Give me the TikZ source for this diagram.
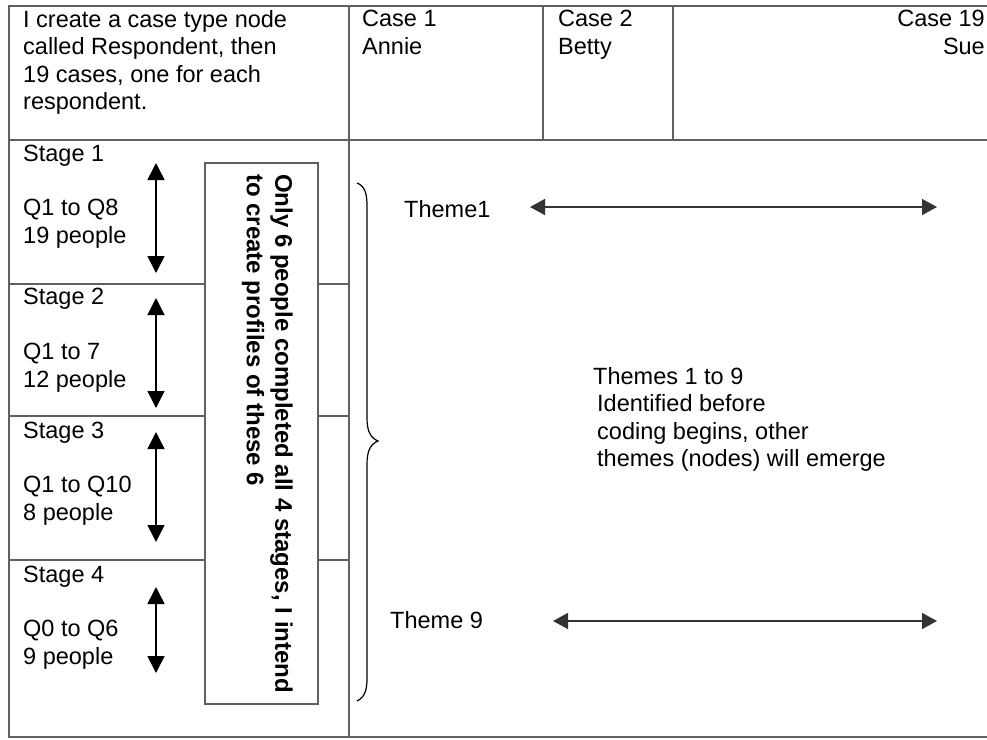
\documentclass[tikz,border=0pt]{standalone}
\usepackage{fontspec}
\setmainfont{Liberation Sans}
\usetikzlibrary{arrows.meta}
\begin{document}
\begin{tikzpicture}[x=1pt,y=-1pt,
  grid/.style={draw=black!62, line width=1.3pt},
  txt/.style={inner sep=0pt, anchor=north west, align=left, font=\fontsize{23.5}{27.5}\selectfont},
  rtxt/.style={inner sep=0pt, anchor=north east, align=right, font=\fontsize{23.5}{27.5}\selectfont},
  vspan/.style={{Triangle[length=17pt,width=17pt]}-{Triangle[length=17pt,width=17pt]}, line width=1.5pt},
  hspan/.style={{Triangle[length=15pt,width=16pt]}-{Triangle[length=15pt,width=16pt]}, line width=1.5pt, draw=black!80}]
\useasboundingbox (0,0) rectangle (987,739);

% table frame
\draw[grid] (990,6) -- (9,6) -- (9,737) -- (990,737);
\draw[grid] (9,140) -- (990,140);
\draw[grid] (349,6) -- (349,737);
\draw[grid] (543,6) -- (543,140);
\draw[grid] (673,6) -- (673,140);
% stage rows
\draw[grid] (9,284) -- (349,284);
\draw[grid] (9,416) -- (349,416);
\draw[grid] (9,560) -- (349,560);

% header row
\node[txt] (intro) at (23,10) {I create a case type node\\called Respondent, then\\19 cases, one for each\\respondent.};
\node[txt] (case1) at (362,10) {Case 1\\Annie};
\node[txt] (case2) at (558,10) {Case 2\\Betty};
\node[rtxt] (case19) at (985,10) {Case 19\\Sue};

% stages
\node[txt] (st1) at (23,145) {Stage 1};
\node[txt] (q1) at (23,199) {Q1 to Q8\\19 people};
\node[txt] (st2) at (23,288) {Stage 2};
\node[txt] (q2) at (23,343) {Q1 to 7\\12 people};
\node[txt] (st3) at (23,422) {Stage 3};
\node[txt] (q3) at (23,476) {Q1 to Q10\\8 people};
\node[txt] (st4) at (23,566) {Stage 4};
\node[txt] (q4) at (23,620) {Q0 to Q6\\9 people};

\coordinate (a1t) at (156,163); \coordinate (a1b) at (156,273);
\coordinate (a2t) at (156,298); \coordinate (a2b) at (156,408);
\coordinate (a3t) at (156,432); \coordinate (a3b) at (156,542);
\coordinate (a4t) at (156,587); \coordinate (a4b) at (156,673);
\draw[vspan] (a1t) -- (a1b);
\draw[vspan] (a2t) -- (a2b);
\draw[vspan] (a3t) -- (a3b);
\draw[vspan] (a4t) -- (a4b);

% note box with vertical text
\node[grid, fill=white, minimum width=113pt, minimum height=541pt, inner sep=0pt] (notebox) at (261.5,433.5) {};
\node[txt, font=\bfseries\fontsize{24}{28.5}\selectfont, rotate=-90] (notetext) at (293,174)
  {Only 6 people completed all 4 stages, I intend\\to create profiles of these 6};

% brace grouping the themes
\draw[line width=1.2pt] (357,183) .. controls (365,186) and (367,194) .. (367,206)
  -- (367,418) .. controls (367,432) and (371,438) .. (378,441)
  .. controls (371,444) and (367,450) .. (367,464)
  -- (367,678) .. controls (367,690) and (365,697) .. (357,701);

% themes
\node[txt] (th1) at (404,200) {Theme1};
\node[txt] (th9) at (390,611) {Theme 9};
\coordinate (h1l) at (530,207); \coordinate (h1r) at (937,207);
\coordinate (h9l) at (553,621); \coordinate (h9r) at (937,621);
\draw[hspan] (h1l) -- (h1r);
\draw[hspan] (h9l) -- (h9r);

\node[txt] (themes) at (593,367) {Themes 1 to 9\\\hspace{4pt}Identified before\\\hspace{4pt}coding begins, other\\\hspace{4pt}themes (nodes) will emerge};
\end{tikzpicture}
\end{document}
